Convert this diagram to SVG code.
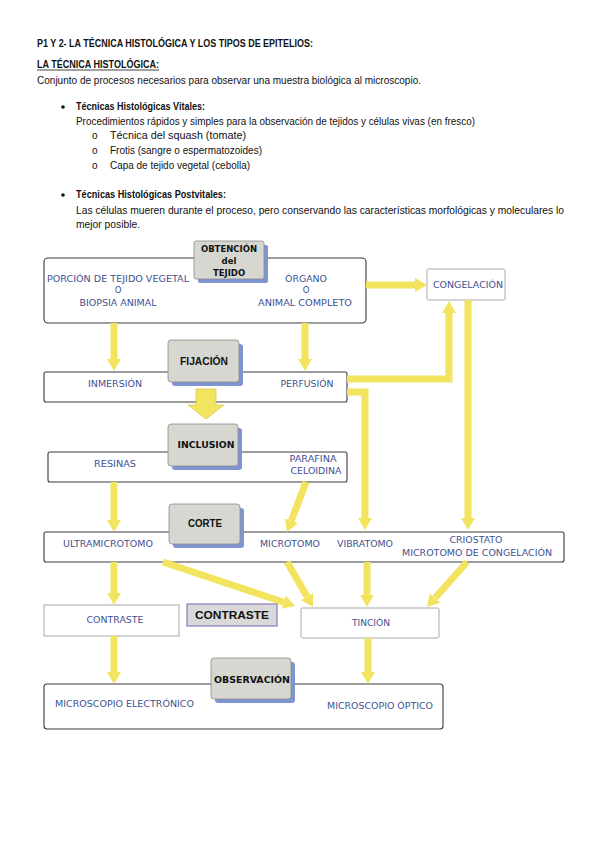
<svg xmlns="http://www.w3.org/2000/svg" width="599" height="848" viewBox="0 0 599 848">
<defs>
<style>
.t{font-family:"Liberation Sans",Arial,sans-serif;font-size:10px;fill:#111}
.b{font-weight:bold}
.r{font-family:"DejaVu Sans",sans-serif;font-size:8.5px;fill:#3f5190;text-anchor:middle}
.row{fill:#fff;stroke:#3a3a3a;stroke-width:1.1}
.lt{fill:#fff;stroke:#a8a8a8;stroke-width:1}
.lab{fill:#d5d7d0;stroke:#8c8c8c;stroke-width:0.8}
.sh{fill:#8094d2}
.lbt{font-family:"DejaVu Sans",sans-serif;font-weight:bold;font-size:8.5px;fill:#111;text-anchor:middle}
.lbc{font-family:"Liberation Sans",Arial,sans-serif;font-weight:bold;font-size:10.5px;fill:#111;text-anchor:middle}
.ar{fill:none;stroke:#f2e45f;stroke-width:7}
.ah{fill:#f2e45f;stroke:#cdbd3c;stroke-width:0.6}
</style>
<marker id="h" markerUnits="userSpaceOnUse" markerWidth="12" markerHeight="14" viewBox="0 0 12 14" refX="0" refY="7" orient="auto">
<path d="M0,0 L12,7 L0,14 z" fill="#f2e45f"/>
</marker>
</defs>
<rect width="599" height="848" fill="#fff"/>

<g id="text">
<text class="t b" x="37" y="47" textLength="276" lengthAdjust="spacingAndGlyphs">P1 Y 2- LA TÉCNICA HISTOLÓGICA Y LOS TIPOS DE EPITELIOS:</text>
<text class="t b" x="37" y="68" textLength="122" lengthAdjust="spacingAndGlyphs">LA TÉCNICA HISTOLÓGICA:</text>
<line x1="37" y1="70" x2="159" y2="70" stroke="#111" stroke-width="0.8"/>
<text class="t" x="37" y="84" textLength="384" lengthAdjust="spacingAndGlyphs">Conjunto de procesos necesarios para observar una muestra biológica al microscopio.</text>
<circle cx="63" cy="107" r="1.8" fill="#111"/>
<text class="t b" x="76" y="110" textLength="129" lengthAdjust="spacingAndGlyphs">Técnicas Histológicas Vitales:</text>
<text class="t" x="76" y="125" textLength="399" lengthAdjust="spacingAndGlyphs">Procedimientos rápidos y simples para la observación de tejidos y células vivas (en fresco)</text>
<text class="t" x="92" y="139">o</text>
<text class="t" x="110" y="139" textLength="136" lengthAdjust="spacingAndGlyphs">Técnica del squash (tomate)</text>
<text class="t" x="92" y="154">o</text>
<text class="t" x="110" y="154" textLength="152" lengthAdjust="spacingAndGlyphs">Frotis (sangre o espermatozoides)</text>
<text class="t" x="92" y="169">o</text>
<text class="t" x="110" y="169" textLength="140" lengthAdjust="spacingAndGlyphs">Capa de tejido vegetal (cebolla)</text>
<circle cx="63" cy="195" r="1.8" fill="#111"/>
<text class="t b" x="76" y="198" textLength="150" lengthAdjust="spacingAndGlyphs">Técnicas Histológicas Postvitales:</text>
<text class="t" x="76" y="214" textLength="488" lengthAdjust="spacingAndGlyphs">Las células mueren durante el proceso, pero conservando las características morfológicas y moleculares lo</text>
<text class="t" x="76" y="228" textLength="64" lengthAdjust="spacingAndGlyphs">mejor posible.</text>
</g>

<g id="obtencion">
<rect class="row" x="44" y="258" width="322" height="65" rx="4"/>
<text class="r" x="118" y="282" textLength="142" lengthAdjust="spacingAndGlyphs">PORCIÓN DE TEJIDO VEGETAL</text>
<text class="r" x="118" y="293" font-size="7.5">O</text>
<text class="r" x="118" y="306" textLength="77" lengthAdjust="spacingAndGlyphs">BIOPSIA ANIMAL</text>
<text class="r" x="306" y="282" textLength="42" lengthAdjust="spacingAndGlyphs">ÓRGANO</text>
<text class="r" x="306" y="293" font-size="7.5">O</text>
<text class="r" x="305" y="306" textLength="94" lengthAdjust="spacingAndGlyphs">ANIMAL COMPLETO</text>
</g>

<g id="congelacion">
<rect class="lt" x="427" y="269" width="78" height="31" rx="1.5"/>
<text class="r" x="468" y="288" textLength="70" lengthAdjust="spacingAndGlyphs">CONGELACIÓN</text>
</g>

<g id="fijacion">
<rect class="row" x="44" y="372" width="303" height="30" rx="2"/>
<text class="r" x="115" y="387" textLength="54" lengthAdjust="spacingAndGlyphs">INMERSIÓN</text>
<text class="r" x="307" y="387" textLength="53" lengthAdjust="spacingAndGlyphs">PERFUSIÓN</text>
</g>

<g id="inclusion">
<rect class="row" x="48" y="452" width="299" height="30" rx="2"/>
<text class="r" x="115" y="467" textLength="42" lengthAdjust="spacingAndGlyphs">RESINAS</text>
<text class="r" x="313" y="462" textLength="47" lengthAdjust="spacingAndGlyphs">PARAFINA</text>
<text class="r" x="316" y="474" textLength="51" lengthAdjust="spacingAndGlyphs">CELOIDINA</text>
</g>

<g id="corte">
<rect class="row" x="44" y="532" width="520" height="30" rx="2"/>
<text class="r" x="108" y="547" textLength="90" lengthAdjust="spacingAndGlyphs">ULTRAMICROTOMO</text>
<text class="r" x="290" y="547" textLength="60" lengthAdjust="spacingAndGlyphs">MICROTOMO</text>
<text class="r" x="365" y="547" textLength="56" lengthAdjust="spacingAndGlyphs">VIBRATOMO</text>
<text class="r" x="476" y="543" textLength="53" lengthAdjust="spacingAndGlyphs">CRIOSTATO</text>
<text class="r" x="477" y="556" textLength="150" lengthAdjust="spacingAndGlyphs">MICROTOMO DE CONGELACIÓN</text>
</g>

<g id="contraste">
<rect class="lt" x="44" y="605" width="135" height="31"/>
<text class="r" x="115" y="623" textLength="57" lengthAdjust="spacingAndGlyphs">CONTRASTE</text>
</g>

<g id="tincion">
<rect class="lt" x="301" y="608" width="138" height="30" rx="1.5"/>
<text class="r" x="371" y="626" textLength="38" lengthAdjust="spacingAndGlyphs">TINCIÓN</text>
</g>

<g id="observacion">
<rect class="row" x="44" y="684" width="399" height="45" rx="3"/>
<text class="r" x="124.5" y="707" textLength="139" lengthAdjust="spacingAndGlyphs">MICROSCOPIO ELECTRÓNICO</text>
<text class="r" x="380" y="709" textLength="106" lengthAdjust="spacingAndGlyphs">MICROSCOPIO ÓPTICO</text>
</g>

<g id="connectors">
<path class="ar" d="M366,285 H415" marker-end="url(#h)"/>
<path class="ar" d="M114,323 V359" marker-end="url(#h)"/>
<path class="ar" d="M305,323 V359" marker-end="url(#h)"/>
<polygon class="ah" points="196,389 216,389 216,405 224,405 206,419 188,405 196,405"/>
<path class="ar" d="M347,379 H449 V313" marker-end="url(#h)"/>
<path class="ar" d="M347,392 H365 V518" marker-end="url(#h)"/>
<path class="ar" d="M468,300 V518" marker-end="url(#h)"/>
<path class="ar" d="M114,482 V520" marker-end="url(#h)"/>
<path class="ar" d="M306,482 L291.3,520.8" marker-end="url(#h)"/>
<path class="ar" d="M114,562 V593" marker-end="url(#h)"/>
<path class="ar" d="M163,562 L283.6,602.2" marker-end="url(#h)"/>
<path class="ar" d="M287,562 L307,596.6" marker-end="url(#h)"/>
<path class="ar" d="M367,562 V595" marker-end="url(#h)"/>
<path class="ar" d="M467,562 L435,598" marker-end="url(#h)"/>
<path class="ar" d="M114,636 V672" marker-end="url(#h)"/>
<path class="ar" d="M368,638 V672" marker-end="url(#h)"/>
</g>

<g id="label-obtencion">
<rect class="sh" x="198" y="245" width="70" height="38" rx="2"/>
<rect class="lab" x="194" y="241" width="70" height="38" rx="2"/>
<text class="lbt" x="229" y="252" font-size="8">OBTENCIÓN</text>
<text class="lbt" x="229" y="264" font-size="8">del</text>
<text class="lbt" x="229" y="276" font-size="8">TEJIDO</text>
</g>
<g id="label-fijacion">
<rect class="sh" x="172" y="344" width="71" height="42" rx="3"/>
<rect class="lab" x="168" y="340" width="71" height="42" rx="3"/>
<text class="lbc" x="204" y="365" textLength="48" lengthAdjust="spacingAndGlyphs">FIJACIÓN</text>
</g>
<g id="label-inclusion">
<rect class="sh" x="172" y="428" width="70" height="42" rx="3"/>
<rect class="lab" x="168" y="424" width="70" height="42" rx="3"/>
<text class="lbt" x="206" y="448" textLength="57" lengthAdjust="spacingAndGlyphs">INCLUSION</text>
</g>
<g id="label-corte">
<rect class="sh" x="173" y="508" width="71" height="40" rx="3"/>
<rect class="lab" x="169" y="504" width="71" height="40" rx="3"/>
<text class="lbc" x="205" y="527" textLength="34" lengthAdjust="spacingAndGlyphs">CORTE</text>
</g>
<g id="label-contraste">
<rect x="187" y="604" width="90" height="22" fill="#d9d9d9" stroke="#8b7bb5" stroke-width="1.2"/>
<text class="lbc" x="232" y="619" font-size="11" textLength="74" lengthAdjust="spacingAndGlyphs">CONTRASTE</text>
</g>
<g id="label-observacion">
<rect class="sh" x="215" y="662" width="80" height="41" rx="3"/>
<rect class="lab" x="211" y="658" width="80" height="41" rx="3"/>
<text class="lbt" x="252" y="683" textLength="76" lengthAdjust="spacingAndGlyphs">OBSERVACIÓN</text>
</g>
</svg>
